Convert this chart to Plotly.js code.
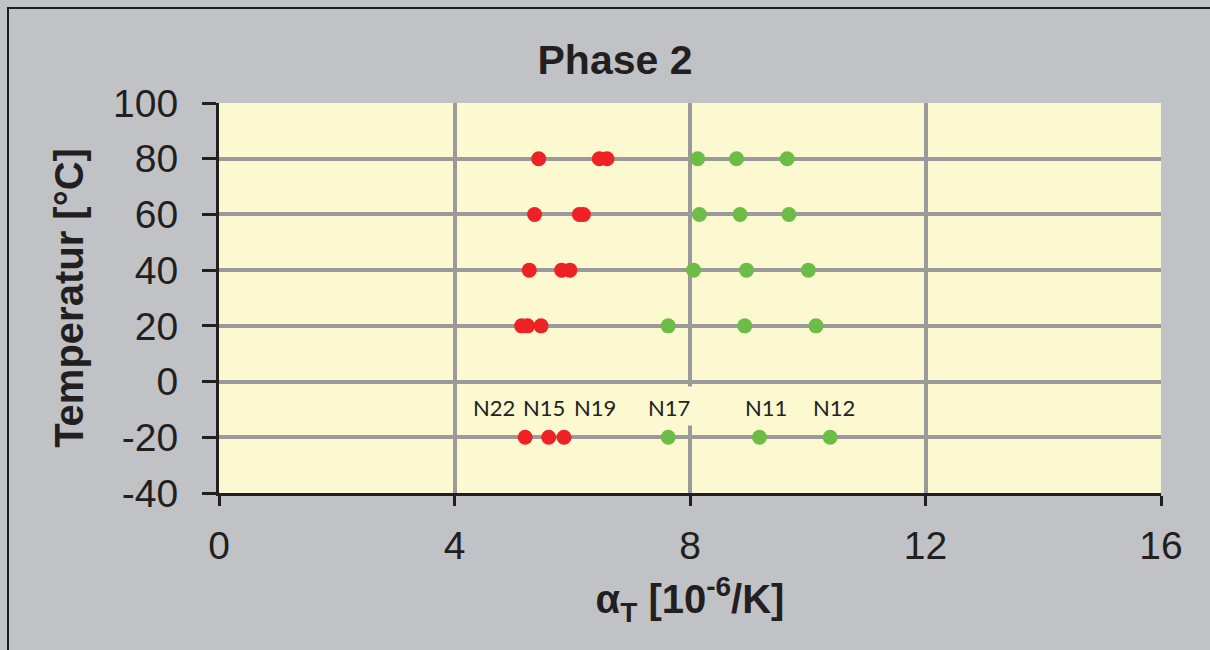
<!DOCTYPE html>
<html>
<head>
<meta charset="utf-8">
<script src="https://cdn.plot.ly/plotly-3.0.1.min.js"></script>
<style>
  html, body { margin: 0; padding: 0; background: #c1c2c6; overflow: hidden; }
  #wrap { position: relative; width: 1210px; height: 650px; overflow: hidden; }
  #chart { position: absolute; left: 0; top: 0; width: 1210px; height: 650px; }
  #frame { position: absolute; left: 7px; top: 7px; width: 1203px; height: 643px;
           border-left: 2px solid #1e1e1e; border-top: 2px solid #1e1e1e; pointer-events: none;
           box-sizing: border-box; }
</style>
</head>
<body>
<div id="wrap">
  <div id="chart"></div>
  <div id="frame"></div>
</div>
<script>
// Temperatures [°C]
const temperatures = [-20, 20, 40, 60, 80];

// Thermal expansion coefficient alpha_T [1e-6/K] per specimen
const N22 = [5.20, 5.14, 5.27, 5.36, 5.43];
const N15 = [5.60, 5.24, 5.82, 6.12, 6.46];
const N19 = [5.86, 5.47, 5.96, 6.19, 6.59];
const N17 = [7.63, 7.63, 8.06, 8.16, 8.13];
const N11 = [9.18, 8.93, 8.96, 8.85, 8.79];
const N12 = [10.38, 10.14, 10.01, 9.68, 9.65];

const specimenNames = ['N22', 'N15', 'N19', 'N17', 'N11', 'N12'];
const specimenValues = [N22, N15, N19, N17, N11, N12];
const specimenGroup = ['red', 'red', 'red', 'green', 'green', 'green'];

// Label placement (data units)
const labelX = [4.67, 5.52, 6.38, 7.64, 9.29, 10.45];
const labelY = -9.3;

const xTicks = [0, 4, 8, 12, 16];
const yTicks = [-40, -20, 0, 20, 40, 60, 80, 100];

const colors = { red: '#ee2125', green: '#6cbd45' };

const traces = specimenNames.map((name, i) => ({
  type: 'scatter',
  mode: 'markers',
  name: name,
  x: specimenValues[i],
  y: temperatures,
  marker: { color: colors[specimenGroup[i]], size: 15, line: { width: 0 } },
  showlegend: false,
  hoverinfo: 'x+y+name'
}));

const annotations = specimenNames.map((name, i) => ({
  x: labelX[i], y: labelY, xref: 'x', yref: 'y',
  text: name, showarrow: false,
  font: { family: 'Lato, "Open Sans", sans-serif', size: 22, color: '#222222' }
}));

const layout = {
  width: 1210, height: 650,
  margin: { l: 219, r: 49, t: 103, b: 157, pad: 0 },
  paper_bgcolor: '#c1c2c6',
  plot_bgcolor: '#fcf8d0',
  font: { family: '"Liberation Sans", Arial, sans-serif', color: '#231f20' },
  title: {
    text: '<b>Phase 2</b>',
    font: { size: 41, color: '#231f20' },
    x: 615 / 1210, xanchor: 'center',
    y: 1 - 60 / 650, yanchor: 'middle'
  },
  xaxis: {
    range: [0, 16],
    tickvals: xTicks,
    ticktext: xTicks.map(String),
    showline: true, linecolor: '#231f20', linewidth: 3,
    ticks: 'outside', ticklen: 10, tickwidth: 3, tickcolor: '#231f20',
    showgrid: true, gridcolor: '#9a9a9c', gridwidth: 4,
    zeroline: false,
    tickfont: { size: 39, color: '#231f20' },
    ticklabelstandoff: 6,
    title: {
      text: '<b>α<sub>T</sub> [10<sup>-6</sup>/K]</b>',
      font: { size: 40, color: '#231f20' },
      standoff: 20
    }
  },
  yaxis: {
    range: [-40, 100],
    tickvals: yTicks,
    ticktext: yTicks.map(String),
    showline: true, linecolor: '#231f20', linewidth: 3,
    ticks: 'outside', ticklen: 14, tickwidth: 3, tickcolor: '#231f20',
    showgrid: true, gridcolor: '#9a9a9c', gridwidth: 4,
    zeroline: false,
    tickfont: { size: 39, color: '#231f20' },
    ticklabelstandoff: 16,
    title: {
      text: '<b>Temperatur [°C]</b>',
      font: { size: 40, color: '#231f20' },
      standoff: 18
    }
  },
  shapes: [{
    type: 'rect', xref: 'x', yref: 'y', layer: 'between',
    x0: 4.1, x1: 11.9, y0: -15.8, y1: -1.8,
    fillcolor: '#fcf8d0', line: { width: 0 }
  }],
  annotations: annotations
};

Plotly.newPlot('chart', traces, layout, { displayModeBar: false, staticPlot: true });
</script>
</body>
</html>
